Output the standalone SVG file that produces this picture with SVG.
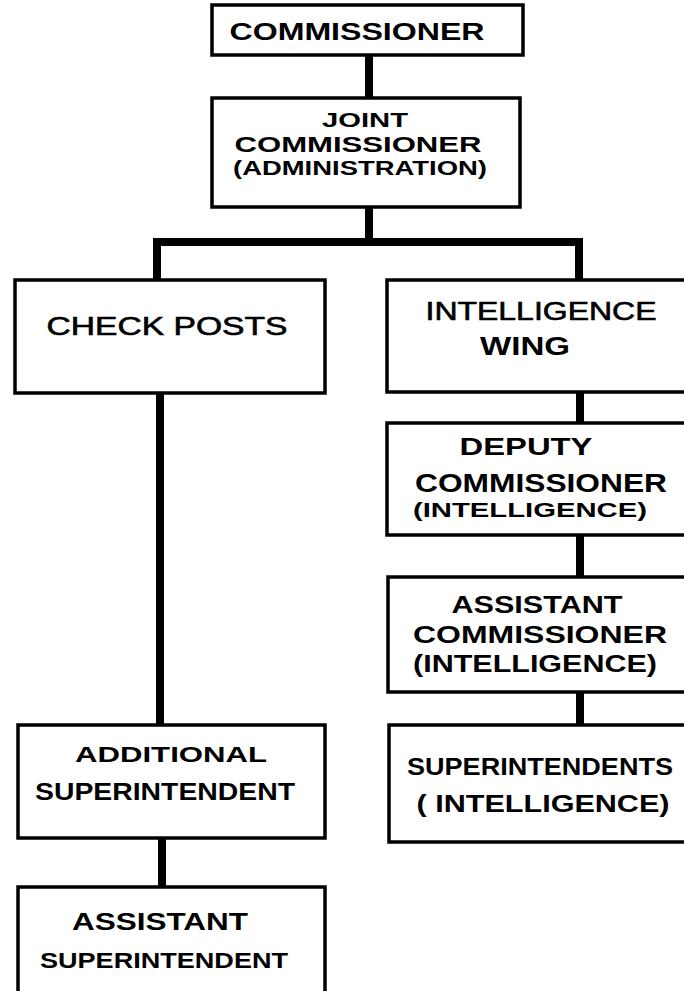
<svg xmlns="http://www.w3.org/2000/svg" width="684" height="991" viewBox="0 0 684 991">
<style>
.box{fill:#fff;stroke:#000;stroke-width:3.5}
.ln{stroke:#000;stroke-width:8;fill:none;stroke-linecap:butt}
text{font-family:"Liberation Sans",Arial,sans-serif;font-weight:bold;fill:#000;text-anchor:middle}
text.lt{font-weight:normal;stroke:#000;stroke-width:0.6}
</style>
<rect width="684" height="991" fill="#fff"/>
<g id="connectors">
<line class="ln" x1="369" y1="55" x2="369" y2="98"/>
<line class="ln" x1="369" y1="207" x2="369" y2="242"/>
<polyline class="ln" points="157,280 157,242 579,242 579,280"/>
<line class="ln" x1="160" y1="393" x2="160" y2="725"/>
<line class="ln" x1="162" y1="838" x2="162" y2="887"/>
<line class="ln" x1="580" y1="392" x2="580" y2="423"/>
<line class="ln" x1="580" y1="535" x2="580" y2="577"/>
<line class="ln" x1="580" y1="692" x2="580" y2="725"/>
</g>
<g id="commissioner">
<rect class="box" x="212" y="5" width="311" height="50"/>
<text x="357" y="40" font-size="23" textLength="255" lengthAdjust="spacingAndGlyphs">COMMISSIONER</text>
</g>
<g id="joint-commissioner">
<rect class="box" x="212" y="98" width="308" height="109"/>
<text x="365" y="127" font-size="21" textLength="86" lengthAdjust="spacingAndGlyphs">JOINT</text>
<text x="358" y="152" font-size="22" textLength="247" lengthAdjust="spacingAndGlyphs">COMMISSIONER</text>
<text x="360" y="175" font-size="21" textLength="254" lengthAdjust="spacingAndGlyphs">(ADMINISTRATION)</text>
</g>
<g id="check-posts">
<rect class="box" x="15" y="280" width="310" height="113"/>
<text class="lt" x="167" y="335" font-size="25" textLength="241" lengthAdjust="spacingAndGlyphs">CHECK POSTS</text>
</g>
<g id="intelligence-wing">
<rect class="box" x="387" y="280" width="310" height="112"/>
<text class="lt" x="541" y="320" font-size="25" textLength="231" lengthAdjust="spacingAndGlyphs">INTELLIGENCE</text>
<text x="525" y="355" font-size="25" textLength="90" lengthAdjust="spacingAndGlyphs">WING</text>
</g>
<g id="deputy-commissioner">
<rect class="box" x="387" y="423" width="310" height="112"/>
<text x="526" y="455" font-size="24" textLength="133" lengthAdjust="spacingAndGlyphs">DEPUTY</text>
<text x="541" y="492" font-size="26" textLength="252" lengthAdjust="spacingAndGlyphs">COMMISSIONER</text>
<text x="530" y="517" font-size="21" textLength="234" lengthAdjust="spacingAndGlyphs">(INTELLIGENCE)</text>
</g>
<g id="assistant-commissioner">
<rect class="box" x="388" y="577" width="310" height="115"/>
<text x="537" y="613" font-size="24" textLength="171" lengthAdjust="spacingAndGlyphs">ASSISTANT</text>
<text x="540" y="643" font-size="24" textLength="254" lengthAdjust="spacingAndGlyphs">COMMISSIONER</text>
<text x="535" y="672" font-size="24" textLength="244" lengthAdjust="spacingAndGlyphs">(INTELLIGENCE)</text>
</g>
<g id="superintendents-intelligence">
<rect class="box" x="389" y="725" width="310" height="117"/>
<text x="540" y="775" font-size="24" textLength="266" lengthAdjust="spacingAndGlyphs">SUPERINTENDENTS</text>
<text x="543" y="812" font-size="24" textLength="253" lengthAdjust="spacingAndGlyphs">( INTELLIGENCE)</text>
</g>
<g id="additional-superintendent">
<rect class="box" x="18" y="725" width="307" height="113"/>
<text x="171" y="762" font-size="22" textLength="192" lengthAdjust="spacingAndGlyphs">ADDITIONAL</text>
<text x="165" y="800" font-size="23" textLength="260" lengthAdjust="spacingAndGlyphs">SUPERINTENDENT</text>
</g>
<g id="assistant-superintendent">
<rect class="box" x="18" y="887" width="307" height="120"/>
<text x="160" y="930" font-size="24" textLength="176" lengthAdjust="spacingAndGlyphs">ASSISTANT</text>
<text x="164" y="968" font-size="22" textLength="248" lengthAdjust="spacingAndGlyphs">SUPERINTENDENT</text>
</g>
</svg>
